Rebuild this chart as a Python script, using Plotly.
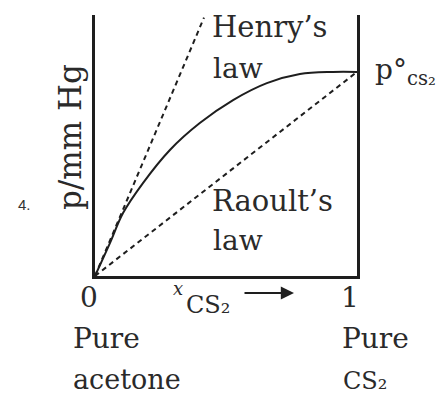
import plotly.graph_objects as go

# Data (x = mole fraction CS2, y = relative pressure)
curve_x = [0, 0.057, 0.107, 0.183, 0.286, 0.40, 0.527, 0.656, 0.782, 0.908, 1.0]
curve_y = [0, 0.126, 0.241, 0.356, 0.483, 0.586, 0.674, 0.739, 0.774, 0.782, 0.782]
henry_x = [0, 0.416]
henry_y = [0, 0.99]
raoult_x = [0, 1.0]
raoult_y = [0, 0.782]

INK = "#1e1e1e"
TXT = "#2a2a2a"
SERIF = "DejaVu Serif"

# plot area geometry in window pixels (page body has an 8px margin)
OFF = 8
L, R, T, B = 95, 357, 15, 276
W, H = 445 - OFF, 396 - OFF


def dx(px):
    return (px - L) / (R - L)


def dy(py):
    return (B - py) / (B - T)


fig = go.Figure()
fig.add_trace(go.Scatter(x=henry_x, y=henry_y, mode="lines",
                         line=dict(color=INK, width=2, dash="5px,4px"),
                         hoverinfo="skip", showlegend=False))
fig.add_trace(go.Scatter(x=raoult_x, y=raoult_y, mode="lines",
                         line=dict(color=INK, width=2, dash="5px,4px"),
                         hoverinfo="skip", showlegend=False))
fig.add_trace(go.Scatter(x=curve_x, y=curve_y, mode="lines",
                         line=dict(color=INK, width=2, shape="spline", smoothing=1.0),
                         hoverinfo="skip", showlegend=False))


def txt(text, px, py, size=28, xanchor="left", family=SERIF, color=TXT, angle=0):
    fig.add_annotation(x=dx(px), y=dy(py), xref="paper", yref="paper", text=text,
                       showarrow=False, xanchor=xanchor, yanchor="middle",
                       textangle=angle,
                       font=dict(family=family, size=size, color=color))


txt("Henry\u2019s", 210, 27, size=29)
txt("law", 211, 68)
txt("Raoult\u2019s", 210, 201, size=29)
txt("law", 211, 240)
txt("p\u00b0<sub>cs\u2082</sub>", 373, 72)
txt("0", 89, 297, xanchor="center")
txt("1", 350, 297, xanchor="center")
txt("<i>x</i>", 178, 288, size=18, xanchor="center")
txt("CS\u2082", 184, 305, size=24)
txt("Pure", 71, 338)
txt("acetone", 71, 379, size=27)
txt("Pure", 340, 338)
txt("CS\u2082", 341, 381, size=24)
txt("4.", 24, 205, size=15, xanchor="center", family="Liberation Sans", color="#333333")
txt("p/mm Hg", 70, 137, size=31, xanchor="center", angle=-90)

# arrow after x_CS2
fig.add_annotation(x=dx(294), y=dy(293), xref="paper", yref="paper",
                   ax=-51, ay=0, axref="pixel", ayref="pixel",
                   text="", showarrow=True, arrowhead=2, arrowsize=1.2,
                   arrowwidth=2.2, arrowcolor=INK)

fig.update_xaxes(range=[0, 1], showline=True, linewidth=2.5, linecolor=INK,
                 showgrid=False, zeroline=False, showticklabels=False, ticks="")
fig.update_yaxes(range=[0, 1], showline=True, mirror=True, linewidth=2.5, linecolor=INK,
                 showgrid=False, zeroline=False, showticklabels=False, ticks="")
fig.update_layout(width=W, height=H,
                  margin=dict(l=L - OFF, r=W - (R - OFF), t=T - OFF, b=H - (B - OFF)),
                  plot_bgcolor="white", paper_bgcolor="white")

fig.write_html("out.html")
